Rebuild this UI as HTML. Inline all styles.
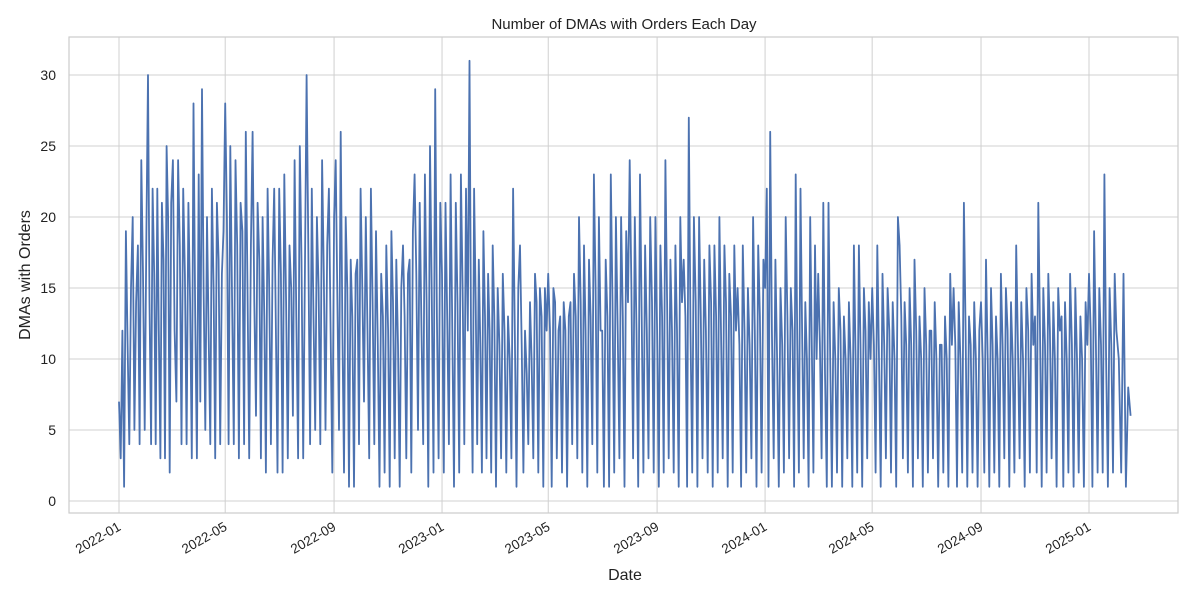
<!DOCTYPE html>
<html><head><meta charset="utf-8"><style>
body{margin:0;background:#fff;}
svg{font-family:"Liberation Sans",sans-serif;}
</style></head><body>
<svg id="chart" width="1200" height="600" xmlns="http://www.w3.org/2000/svg">
<rect width="1200" height="600" fill="#fff"/>
<g id="grid"></g>
<rect x="69" y="37" width="1109" height="476" fill="none" stroke="#cccccc" stroke-width="1.2"/>
<g id="ticks"></g>
<path id="line" fill="none" stroke="#4c72b0" stroke-width="1.8" stroke-linejoin="round"/>
<text x="624" y="29" text-anchor="middle" font-size="15" fill="#222">Number of DMAs with Orders Each Day</text>
<text x="625" y="580" text-anchor="middle" font-size="16" fill="#222">Date</text>
<text transform="translate(30,275) rotate(-90)" text-anchor="middle" font-size="16" fill="#222">DMAs with Orders</text>
</svg>
<script>
// one row of sampled daily counts per calendar month (Jan 2022 .. Feb 2025)
const monthStarts = ["2022-01","2022-02","2022-03","2022-04","2022-05","2022-06","2022-07","2022-08","2022-09","2022-10","2022-11","2022-12",
"2023-01","2023-02","2023-03","2023-04","2023-05","2023-06","2023-07","2023-08","2023-09","2023-10","2023-11","2023-12",
"2024-01","2024-02","2024-03","2024-04","2024-05","2024-06","2024-07","2024-08","2024-09","2024-10","2024-11","2024-12",
"2025-01","2025-02"];
const lastDate = "2025-02-17";
const monthlyValues = [
[7,3,12,1,19,11,4,15,20,5,14,18,4,24,16,5],
[19,30,14,4,22,16,4,22,12,3,21,17,3,25,20,2],
[21,24,12,7,24,18,4,22,16,4,21,14,3,28,13,3],
[23,7,29,15,5,20,12,4,22,15,3,21,17,4,16,19],
[28,20,4,25,14,4,24,18,3,21,19,4,26,15,3,18],
[26,14,6,21,17,3,20,13,2,22,15,4,17,22,12,2],
[22,16,2,23,14,3,18,15,6,24,13,3,25,17,3,16],
[30,18,4,22,13,5,20,15,4,24,16,5,18,22,12,2],
[20,24,14,5,26,12,2,20,15,1,17,13,1,16,17,4],
[22,15,7,20,12,3,22,14,4,19,11,1,16,13,2,18],
[12,1,19,14,3,17,11,1,15,18,13,3,16,17,2,19],
[23,16,5,21,12,4,23,14,1,25,15,2,29,13,3,21],
[16,2,21,13,4,23,12,1,21,14,2,23,15,4,22,12],
[31,12,2,22,14,4,17,11,2,19,13,3,16,12,2,18],
[13,1,15,11,3,16,12,2,13,10,3,22,12,1,15,18],
[11,2,12,9,4,14,10,3,16,14,2,15,13,1,15,12],
[16,12,1,15,14,3,12,13,2,14,12,1,13,14,4,16],
[13,3,20,14,2,18,12,1,17,13,4,23,15,2,20,12],
[12,1,17,13,1,23,14,2,20,12,3,20,13,1,19,14],
[24,15,3,20,12,1,23,13,2,18,12,3,20,14,2,20],
[12,1,18,13,2,24,14,3,17,12,2,18,12,1,20,14],
[17,13,1,27,12,2,20,14,1,20,13,3,17,12,2,18],
[14,1,18,13,2,20,12,3,18,14,1,16,13,2,18,12],
[15,11,1,18,12,2,15,11,3,20,12,1,18,13,2,17],
[15,22,1,26,12,3,17,10,1,15,11,2,20,13,3,15],
[12,1,23,11,2,22,12,3,14,10,1,20,11,2,18,10],
[16,11,3,21,9,1,21,10,1,14,10,2,15,12,1,13],
[10,3,14,10,1,18,10,2,18,11,1,15,12,3,14,10],
[15,11,2,18,10,1,16,11,3,15,12,2,14,10,1,20],
[18,13,3,14,11,2,15,11,1,17,12,3,13,10,1,15],
[11,2,12,12,3,14,10,1,11,11,2,13,10,1,16,11],
[15,11,1,14,10,2,21,12,1,13,11,2,14,10,1,12],
[14,10,2,17,10,1,15,11,2,13,10,1,16,11,3,15],
[12,1,14,10,2,18,11,3,14,10,1,15,12,2,16,11],
[13,2,21,12,1,15,11,2,16,12,3,14,10,1,15,12],
[13,1,14,10,2,16,11,1,15,10,2,13,10,1,14,11],
[16,12,1,19,11,2,15,11,2,23,10,1,15,11,2,16],
[12,10,2,16,1,8,6]
];
const xTickLabels = ["2022-01","2022-05","2022-09","2023-01","2023-05","2023-09","2024-01","2024-05","2024-09","2025-01"];
const yTicks = [0,5,10,15,20,25,30];

const ns="http://www.w3.org/2000/svg";
const t0=Date.parse("2022-01-01"), t1=Date.parse("2025-01-01");
function xs(t){return 119+(t-t0)/(t1-t0)*(1089-119);}
function ys(v){return 501-v*(501-75)/30;}
const grid=document.getElementById('grid'), ticks=document.getElementById('ticks');
function mk(tag,attrs,parent){const e=document.createElementNS(ns,tag);for(const k in attrs)e.setAttribute(k,attrs[k]);parent.appendChild(e);return e;}
yTicks.forEach(v=>{
  const y=ys(v);
  const g=mk('line',{x1:69,x2:1178,y1:y,y2:y,stroke:'#d0d0d0','stroke-width':1},grid);
  
  
  const t=mk('text',{x:56,y:y+5,'text-anchor':'end','font-size':14,fill:'#222'},ticks);
  t.textContent=v;
  
  
});
xTickLabels.forEach(l=>{
  const x=xs(Date.parse(l+"-01"));
  const g=mk('line',{x1:x,x2:x,y1:37,y2:513,stroke:'#d0d0d0','stroke-width':1},grid);
  
  
  const t=mk('text',{'text-anchor':'end','font-size':13.5,fill:'#222',transform:`translate(${x-2},${521}) rotate(-30)`},ticks);
  t.setAttribute('dominant-baseline','hanging');
  t.textContent=l;
  
  
});
let d='';
monthlyValues.forEach((row,m)=>{
  const ms=Date.parse(monthStarts[m]+"-01");
  const me=m+1<monthStarts.length?Date.parse(monthStarts[m+1]+"-01"):Date.parse(lastDate);
  const last=m+1===monthStarts.length;
  row.forEach((v,i)=>{
    const frac=last? i/(row.length-1) : i/row.length;
    const t=ms+(me-ms)*frac;
    d+=(d?'L':'M')+xs(t).toFixed(1)+','+ys(v).toFixed(1);
  });
});
document.getElementById('line').setAttribute('d',d);
</script>
</body></html>
